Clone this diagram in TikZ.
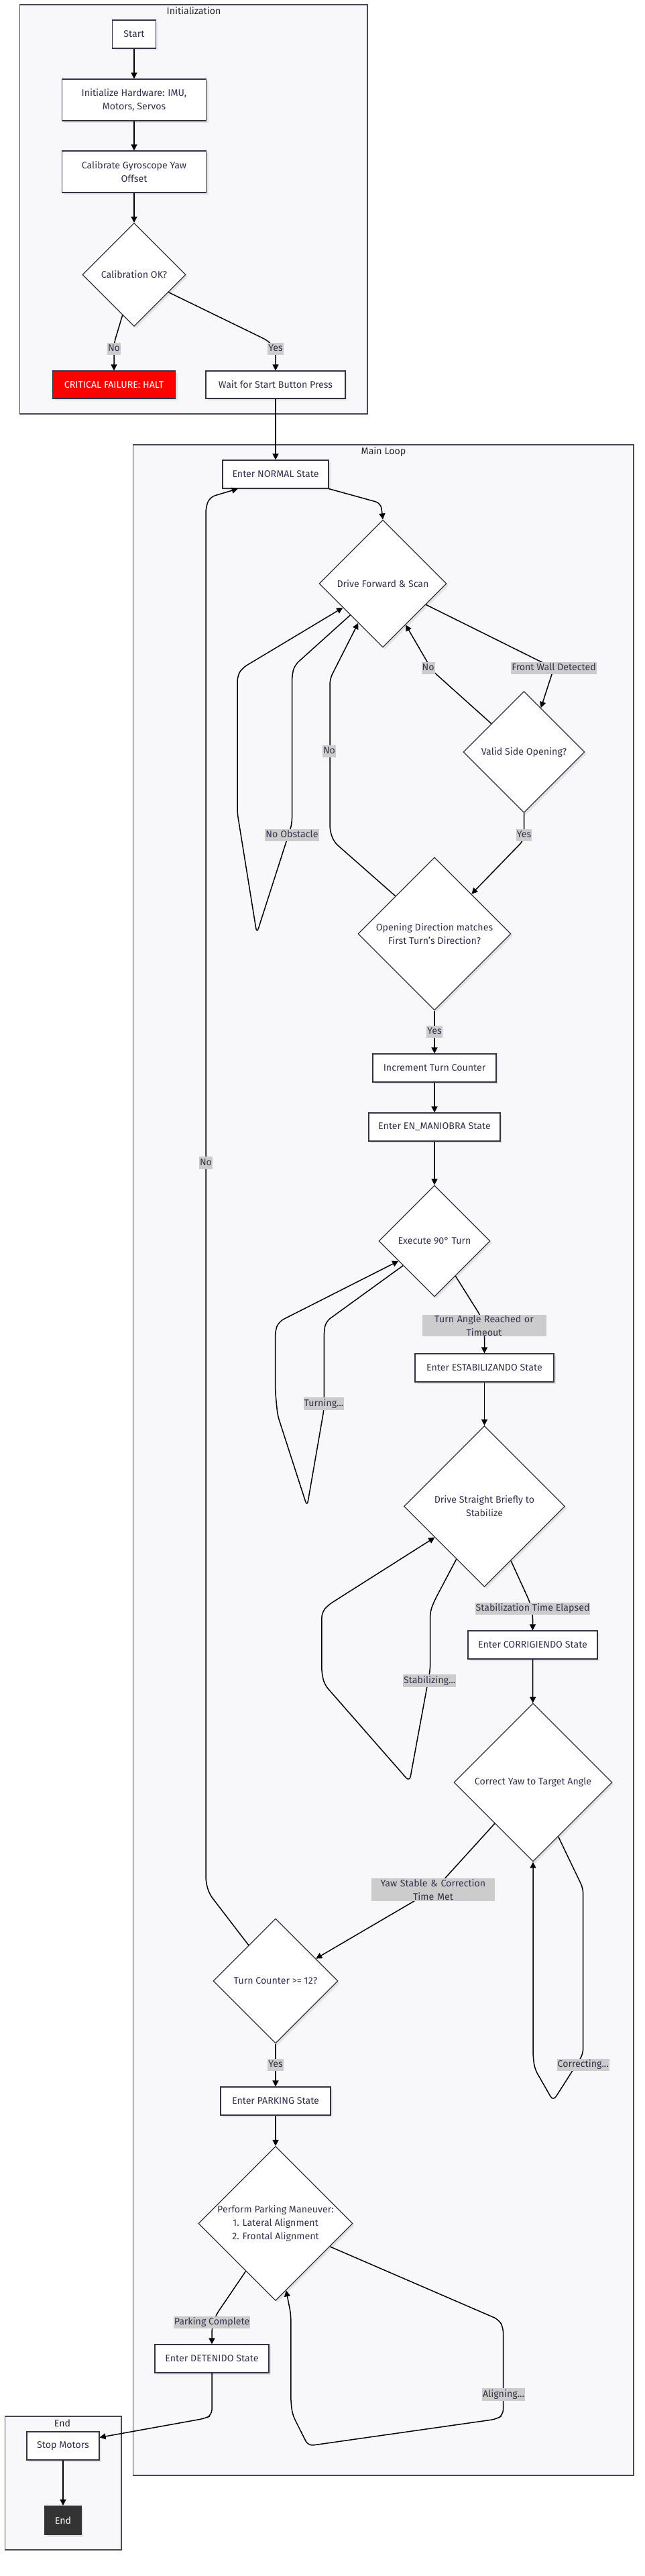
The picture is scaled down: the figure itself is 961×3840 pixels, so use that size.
\documentclass[tikz,border=0pt]{standalone}
\usepackage{fontspec}
\setmainfont{Fira Sans}
\usetikzlibrary{shapes.geometric,arrows.meta,shadows}
\definecolor{nborder}{RGB}{51,51,68}
\definecolor{ntext}{RGB}{51,51,77}
\definecolor{framefill}{RGB}{248,248,250}
\definecolor{lblfill}{RGB}{204,204,204}
\definecolor{critred}{RGB}{255,0,0}
\definecolor{enddark}{RGB}{51,51,51}
\newcommand{\nodefont}{\fontsize{14.2}{20}\selectfont}
\tikzset{
  shadowed/.style={drop shadow={shadow xshift=3pt,shadow yshift=-3pt,fill=black,opacity=0.08}},
  procbox/.style={rectangle,draw=nborder,line width=1.2pt,fill=white,text=ntext,font=\nodefont,align=center,inner sep=0pt,shadowed},
  decision/.style={diamond,aspect=1,draw=nborder,line width=1.2pt,fill=white,text=ntext,font=\nodefont,align=center,inner sep=0pt,shadowed},
  frame/.style={rectangle,draw=nborder!90,line width=1.1pt,fill=framefill,inner sep=0pt},
  frametitle/.style={font=\nodefont,text=black!85,inner sep=0pt},
  edgelbl/.style={fill=lblfill,text=ntext,font=\nodefont,inner xsep=1pt,inner ysep=2.5pt,text height=10.5pt,text depth=3pt,align=center},
  edgelbltwo/.style={fill=lblfill,text=ntext,font=\nodefont,inner xsep=1pt,inner ysep=1pt,align=center},
  flow/.style={draw=black,line width=1.5pt,-{Triangle[length=9pt,width=9pt]},rounded corners=8pt},
}
\begin{document}
\begin{tikzpicture}[x=1pt,y=-1pt]
\useasboundingbox (0,0) rectangle (961,3840);
\fill[white] (0,0) rectangle (961,3840);

% frames
\node[frame,minimum width=518.4pt,minimum height=610pt] (initframe) at (288.8,312) {};
\node[frametitle] (inittitle) at (289,16) {Initialization};
\node[frame,minimum width=746.5pt,minimum height=3027pt] (mainframe) at (571.75,2176.5) {};
\node[frametitle] (maintitle) at (572,673) {Main Loop};
\node[frame,minimum width=173.6pt,minimum height=199pt] (endframe) at (94.2,3701.5) {};
\node[frametitle] (endtitle) at (93,3612) {End};

% init nodes
\node[procbox,minimum width=64.5pt,minimum height=42pt] (start) at (200,51) {Start};
\node[procbox,minimum width=215pt,minimum height=62pt] (inithw) at (200,149) {Initialize Hardware: IMU,\\Motors, Servos};
\node[procbox,minimum width=215pt,minimum height=62pt] (calib) at (200,256) {Calibrate Gyroscope Yaw\\Offset};
\node[decision,minimum width=154pt,minimum height=154pt] (calok) at (200,409.5) {Calibration OK?};
\node[procbox,fill=critred,text=white,minimum width=183pt,minimum height=41pt] (fail) at (170,573.5) {CRITICAL FAILURE: HALT};
\node[procbox,minimum width=208pt,minimum height=41pt] (wait) at (411,573.5) {Wait for Start Button Press};

% main loop nodes
\node[procbox,minimum width=158pt,minimum height=42pt] (normal) at (411,707) {Enter NORMAL State};
\node[decision,minimum width=190pt,minimum height=190pt] (drive) at (571,870) {Drive Forward \& Scan};
\node[decision,minimum width=181pt,minimum height=181pt] (valid) at (781.5,1121) {Valid Side Opening?};
\node[decision,minimum width=228pt,minimum height=228pt] (opening) at (648,1392) {Opening Direction matches\\First Turn's Direction?};
\node[procbox,minimum width=184pt,minimum height=42pt] (incr) at (648,1592) {Increment Turn Counter};
\node[procbox,minimum width=196pt,minimum height=42pt] (maniobra) at (648,1680) {Enter EN\_MANIOBRA State};
\node[decision,minimum width=166pt,minimum height=166pt] (exec) at (648,1850) {Execute 90° Turn};
\node[procbox,minimum width=207pt,minimum height=42pt] (estab) at (722.5,2039) {Enter ESTABILIZANDO State};
\node[decision,minimum width=240pt,minimum height=240pt] (straight) at (722.5,2245.5) {Drive Straight Briefly to\\Stabilize};
\node[procbox,minimum width=193pt,minimum height=42pt] (corrig) at (794.5,2452) {Enter CORRIGIENDO State};
\node[decision,minimum width=236pt,minimum height=236pt] (correct) at (795,2657) {Correct Yaw to Target Angle};
\node[decision,minimum width=186pt,minimum height=186pt] (counter) at (411,2953) {Turn Counter >= 12?};
\node[procbox,minimum width=164pt,minimum height=42pt] (parking) at (411,3132) {Enter PARKING State};
\node[decision,minimum width=230pt,minimum height=230pt] (perform) at (411,3314.5) {Perform Parking Maneuver:\\1. Lateral Alignment\\2. Frontal Alignment};
\node[procbox,minimum width=170pt,minimum height=42pt] (detenido) at (316,3516) {Enter DETENIDO State};

% end nodes
\node[procbox,minimum width=108pt,minimum height=42pt] (stop) at (94,3646) {Stop Motors};
\node[procbox,fill=enddark,draw=enddark,text=white,minimum width=54pt,minimum height=43pt] (endn) at (94,3757) {End};

% connectors
\draw[flow] (start) -- (inithw);
\draw[flow] (inithw) -- (calib);
\draw[flow] (calib) -- (calok);
\draw[flow] (calok.254.5) -- (170,512) -- (fail.north);
\draw[flow] (calok.-27.9) -- (400,508) -- (411,520) -- (wait.north);
\draw[flow] (wait) -- (normal);
\draw[flow] (normal.south east) -- (568,750) -- (drive.north);
\draw[flow] (drive.-26.7) -- (826,996) -- (valid.69);
\draw[flow] (valid.139) -- (645,1000) -- (drive.-61.5);
\draw[flow] (valid.south) -- (781.5,1252) -- (opening.47.4);
\draw[flow] (opening.136.5) -- (498,1255) -- (492,1238) -- (492,1012) -- (drive.238.4);
\draw[flow] (drive.224) -- (439,992) -- (435.5,1008) -- (435.5,1228) -- (383,1391.5) -- (354,1212) -- (354,1008) -- (361,996) -- (drive.211.4);
\draw[flow] (opening) -- (incr);
\draw[flow] (incr) -- (maniobra);
\draw[flow] (maniobra) -- (exec);
\draw[flow] (exec.-59.3) -- (717,1962) -- (722.5,1985) -- (estab.north);
\draw[flow] (exec.218.4) -- (486,1970) -- (483.3,1985) -- (483.3,2100) -- (458,2245.6) -- (414,2109.5) -- (410.6,2074) -- (410.6,1983) -- (416,1970) -- (exec.209);
\draw[flow] (estab) -- (straight);
\draw[flow] (straight.-64.7) -- (790.6,2389) -- (794.5,2405) -- (corrig.north);
\draw[flow] (straight.242) -- (648,2386) -- (641.6,2402) -- (641.6,2489) -- (610.8,2656) -- (483.8,2511) -- (479.8,2493) -- (479.8,2404) -- (488.8,2393) -- (straight.212.5);
\draw[flow] (corrig) -- (correct);
\draw[flow] (correct.227.4) -- (650,2815) -- (counter.29.4);
\draw[flow] (correct.-65.5) -- (869.7,2815) -- (869.7,3062) -- (825,3132) -- (797.5,3084) -- (795,3065) -- (correct.south);
\draw[flow] (counter.127.7) -- (312,2823) -- (307,2805) -- (307,756) -- (313,741) -- (normal.201.3);
\draw[flow] (counter) -- (parking);
\draw[flow] (parking) -- (perform);
\draw[flow] (perform.238) -- (321.7,3451.5) -- (316,3470) -- (detenido.north);
\draw[flow] (perform.-23.7) -- (744.5,3458) -- (750.6,3470) -- (750.6,3599.6) -- (741,3606) -- (459.6,3646) -- (436.3,3599.6) -- (433.8,3580) -- (433.8,3450) -- (perform.-81);
\draw[flow] (detenido.south) -- (316,3600) -- (306,3605) -- (stop.13.5);
\draw[flow] (stop) -- (endn);

% labels
\node[edgelbl] (lno1) at (170,520) {No};
\node[edgelbl] (lyes1) at (411,520) {Yes};
\node[edgelbl] (lfront) at (826,996) {Front Wall Detected};
\node[edgelbl] (lno2) at (638.7,996) {No};
\node[edgelbl] (lyes2) at (781.5,1245) {Yes};
\node[edgelbl] (lno3) at (491,1120) {No};
\node[edgelbl] (lnoobs) at (435.5,1245) {No Obstacle};
\node[edgelbl] (lyes3) at (648,1538) {Yes};
\node[edgelbltwo,text width=183pt] (lturn) at (722,1976) {Turn Angle Reached or\\Timeout};
\node[edgelbl] (lturning) at (483,2092.5) {Turning...};
\node[edgelbl] (lstabel) at (794.5,2398) {Stabilization Time Elapsed};
\node[edgelbl] (lstabing) at (640.7,2505.5) {Stabilizing...};
\node[edgelbltwo,text width=182pt] (lyaw) at (646,2817) {Yaw Stable \& Correction\\Time Met};
\node[edgelbl] (lcorr) at (869.7,3078) {Correcting...};
\node[edgelbl] (lno4) at (307,1733.5) {No};
\node[edgelbl] (lyes4) at (411,3078) {Yes};
\node[edgelbl] (lpark) at (316,3462) {Parking Complete};
\node[edgelbl] (lalign) at (751,3569.6) {Aligning...};
\end{tikzpicture}
\end{document}
